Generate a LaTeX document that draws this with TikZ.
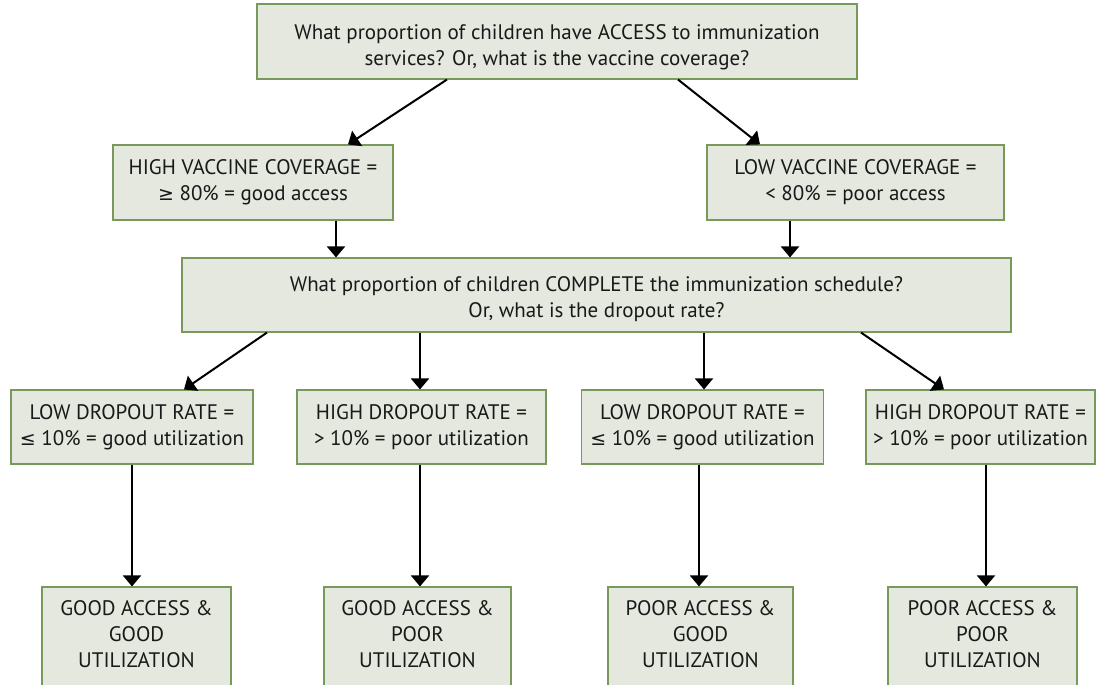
\documentclass[tikz,border=0pt]{standalone}
\usepackage{fontspec}
\setmainfont{PT Sans}
\newfontfamily\symfont{DejaVu Sans}
\usetikzlibrary{arrows.meta}
\definecolor{boxfill}{HTML}{E4E8DF}
\definecolor{boxline}{HTML}{77995A}
\newcommand{\lesym}{{\symfont\fontsize{19}{26}\selectfont ≤}}
\newcommand{\gesym}{{\symfont\fontsize{19}{26}\selectfont ≥}}
\newcommand{\lift}{\rule[-22pt]{0pt}{0pt}}
\begin{document}
\begin{tikzpicture}[x=1pt,y=-1pt,
  box/.style={draw=boxline,fill=boxfill,line width=1.1pt,align=center,
    font=\fontsize{21}{26}\selectfont,inner sep=0pt,text=black!90},
  arr/.style={line width=2pt,-{Triangle[width=18pt,length=11pt]}}]
\useasboundingbox (0,0) rectangle (1100,685);
\clip (0,0) rectangle (1100,685);
\node[box,minimum width=600,minimum height=75] (top) at (557,41.5)
  {\rule{0pt}{27pt}What proportion of children have ACCESS to immunization\\services? Or, what is the vaccine coverage?};
\node[box,minimum width=280,minimum height=75] (high) at (253,182.5)
  {HIGH VACCINE COVERAGE =\\\gesym{} 80\% = good access};
\node[box,minimum width=297,minimum height=75] (low) at (855.5,182.5)
  {LOW VACCINE COVERAGE =\\< 80\% = poor access};
\node[box,minimum width=829,minimum height=74] (mid) at (596.5,295)
  {\rule{0pt}{24pt}What proportion of children COMPLETE the immunization schedule?\\Or, what is the dropout rate?};
\node[box,minimum width=242,minimum height=74] (r1) at (132,427)
  {LOW DROPOUT RATE =\\\lesym{} 10\% = good utilization};
\node[box,minimum width=249,minimum height=74] (r2) at (421.5,427)
  {HIGH DROPOUT RATE =\\> 10\% = poor utilization};
\node[box,minimum width=242,minimum height=74] (r3) at (702.5,427)
  {LOW DROPOUT RATE =\\\lesym{} 10\% = good utilization};
\node[box,minimum width=229,minimum height=74] (r4) at (980.5,427)
  {HIGH DROPOUT RATE =\\> 10\% = poor utilization};
\node[box,minimum width=189,minimum height=116] (b1) at (136.5,645)
  {GOOD ACCESS \&\\GOOD\\UTILIZATION\lift};
\node[box,minimum width=187,minimum height=116] (b2) at (417.5,645)
  {GOOD ACCESS \&\\POOR\\UTILIZATION\lift};
\node[box,minimum width=185,minimum height=116] (b3) at (700.5,645)
  {POOR ACCESS \&\\GOOD\\UTILIZATION\lift};
\node[box,minimum width=189,minimum height=116] (b4) at (982.5,645)
  {POOR ACCESS \&\\POOR\\UTILIZATION\lift};
% arrows
\draw[arr] (top.south -| 447,0) -- (high.north -| 348,0);
\draw[arr] (top.south -| 678,0) -- (low.north -| 760,0);
\draw[arr] (high.south -| 336,0) -- (mid.north -| 336,0);
\draw[arr] (low.south -| 790,0) -- (mid.north -| 790,0);
\draw[arr] (mid.south -| 267,0) -- (r1.north -| 184,0);
\draw[arr] (mid.south -| 420,0) -- (r2.north -| 420,0);
\draw[arr] (mid.south -| 704,0) -- (r3.north -| 704,0);
\draw[arr] (mid.south -| 861,0) -- (r4.north -| 944,0);
\draw[arr] (r1.south -| 132,0) -- (b1.north -| 132,0);
\draw[arr] (r2.south -| 420,0) -- (b2.north -| 420,0);
\draw[arr] (r3.south -| 699,0) -- (b3.north -| 699,0);
\draw[arr] (r4.south -| 986,0) -- (b4.north -| 986,0);
\end{tikzpicture}
\end{document}
